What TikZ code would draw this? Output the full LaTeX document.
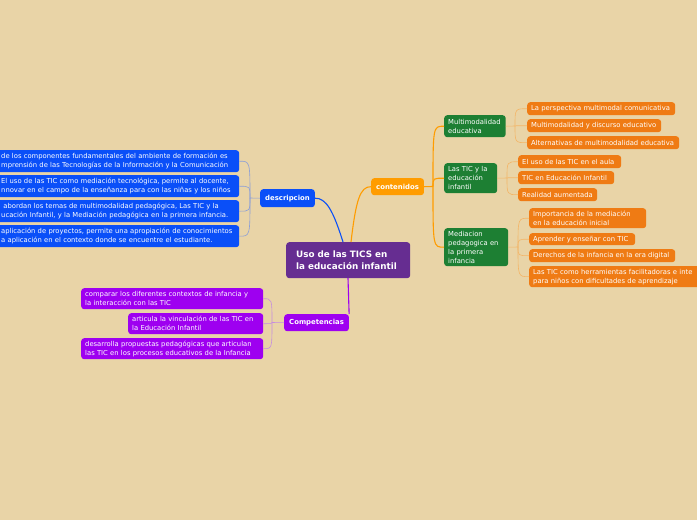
\documentclass[tikz,border=0pt]{standalone}
\usepackage{fontspec}
\setmainfont{DejaVu Sans}
\definecolor{bgc}{HTML}{E9D4A7}
\definecolor{cpurple}{HTML}{662D91}
\definecolor{cblue}{HTML}{0A4FF8}
\definecolor{cviolet}{HTML}{9E00F0}
\definecolor{corange}{HTML}{FF9C00}
\definecolor{cgreen}{HTML}{1D7F33}
\definecolor{cleaf}{HTML}{EF7B14}
\definecolor{lblue}{HTML}{8A9ED8}
\definecolor{lviolet}{HTML}{C58BE0}
\definecolor{lorange}{HTML}{F4B566}
\begin{document}
\begin{tikzpicture}[x=1pt,y=-1pt,
  box/.style={rounded corners=3pt, text=white, anchor=north west, inner ysep=0pt, inner xsep=4pt,
    font=\fontsize{6.8}{9}\selectfont, align=left},
  mainbox/.style={box, fill=cpurple, font=\bfseries\fontsize{8.8}{11.5}\selectfont, inner xsep=10pt},
  hub/.style={box, font=\bfseries\fontsize{6.9}{8}\selectfont, align=center, inner xsep=5pt},
  bleaf/.style={box, fill=cblue, inner xsep=5pt},
  vleaf/.style={box, fill=cviolet},
  gbox/.style={box, fill=cgreen},
  oleaf/.style={box, fill=cleaf},
  thickcon/.style={line width=1.1pt},
  thincon/.style={line width=0.6pt}
]
\fill[bgc] (0,0) rectangle (697,520);
\useasboundingbox (0,0) rectangle (697,520);

% central and hubs
\node[mainbox, minimum height=36pt, text width=104pt] (central) at (286,242) {Uso de las TICS en\\la educación infantil};
\node[hub, fill=cblue, minimum height=18pt] (desc) at (260,189) {descripcion};
\node[hub, fill=corange, minimum height=17pt] (cont) at (371,178) {contenidos};
\node[hub, fill=cviolet, minimum height=17pt] (comp) at (284,314) {Competencias};

% blue leaves
\node[bleaf, minimum height=22pt, text width=233pt] (b1) at (-4,150) {de los componentes fundamentales del ambiente de formación es\\mprensión de las Tecnologías de la Información y la Comunicación};
\node[bleaf, minimum height=22pt, text width=233pt] (b2) at (-4,175) {El uso de las TIC como mediación tecnológica, permite al docente,\\nnovar en el campo de la enseñanza para con las niñas y los niños};
\node[bleaf, minimum height=22pt, text width=233pt] (b3) at (-4,200) {\ abordan los temas de multimodalidad pedagógica, Las TIC y la\\ucación Infantil, y la Mediación pedagógica en la primera infancia.};
\node[bleaf, minimum height=22pt, text width=233pt] (b4) at (-4,225) {aplicación de proyectos, permite una apropiación de conocimientos\\a aplicación en el contexto donde se encuentre el estudiante.};

% violet leaves
\node[vleaf, minimum height=21pt, text width=174pt] (v1) at (81,288) {comparar los diferentes contextos de infancia y\\la interacción con las TIC};
\node[vleaf, minimum height=21pt, text width=127pt] (v2) at (128,313) {articula la vinculación de las TIC en\\la Educación Infantil};
\node[vleaf, minimum height=21pt, text width=174pt] (v3) at (81,338) {desarrolla propuestas pedagógicas que articulan\\las TIC en los procesos educativos de la Infancia};

% green nodes
\node[gbox, minimum height=22pt, text width=53.5pt] (g1) at (444,115) {Multimodalidad\\educativa};
\node[gbox, minimum height=30pt, text width=45pt] (g2) at (444,163) {Las TIC y la\\educación\\infantil};
\node[gbox, minimum height=38pt, text width=56pt] (g3) at (444,228) {Mediacion\\pedagogica en\\la primera\\infancia};

% orange leaves
\node[oleaf, minimum height=13pt, text width=140pt] (o1) at (527,102) {La perspectiva multimodal comunicativa};
\node[oleaf, minimum height=13pt, text width=126pt] (o2) at (527,119) {Multimodalidad y discurso educativo};
\node[oleaf, minimum height=13pt, text width=144pt] (o3) at (527,136) {Alternativas de multimodalidad educativa};
\node[oleaf, minimum height=13pt, text width=95pt] (o4) at (518,155) {El uso de las TIC en el aula};
\node[oleaf, minimum height=13pt, text width=88pt] (o5) at (518,171) {TIC en Educación Infantil};
\node[oleaf, minimum height=13pt, text width=71pt] (o6) at (518,188) {Realidad aumentada};
\node[oleaf, minimum height=20pt, text width=109pt] (o7) at (529,208) {Importancia de la mediación\\en la educación inicial};
\node[oleaf, minimum height=12pt, text width=98pt] (o8) at (529,233) {Aprender y enseñar con TIC};
\node[oleaf, minimum height=13pt, text width=138pt] (o9) at (529,249) {Derechos de la infancia en la era digital};
\node[oleaf, minimum height=21pt, text width=200pt] (o10) at (529,266) {Las TIC como herramientas facilitadoras e inte\\para niños con dificultades de aprendizaje};

% main connectors
\coordinate (cb) at (343,242);
\coordinate (co) at (351,242);
\coordinate (cv) at (348,278);
\draw[thickcon, cblue] (cb) .. controls (333,210) and (326,198) .. (desc.east);
\draw[thickcon, corange] (co) .. controls (356,200) and (360,186.5) .. (cont.west);
\draw[thickcon, cviolet] (cv) -- (comp.north east);

% descripcion leaves
\coordinate (ds) at (250,198);
\draw[thincon, lblue] (desc.west) -- (ds);
\foreach \n in {b1,b2,b3,b4}
  \draw[thincon, lblue] (ds) .. controls (ds |- \n.east) .. (\n.east);

% competencias leaves
\coordinate (vs) at (272,322.5);
\draw[thincon, lviolet] (comp.west) -- (vs);
\foreach \n in {v1,v2,v3}
  \draw[thincon, lviolet] (vs) .. controls (vs |- \n.east) .. (\n.east);

% contenidos branches
\coordinate (cs) at (433,186.5);
\draw[thickcon, corange] (cont.east) -- (cs);
\foreach \n in {g1,g2,g3}
  \draw[thickcon, corange] (cs) .. controls (cs |- \n.west) .. (\n.west);

% green leaves
\coordinate (s1) at (515,126);
\draw[thincon, lorange] (g1.east) -- (s1);
\foreach \n in {o1,o2,o3}
  \draw[thincon, lorange] (s1) .. controls (s1 |- \n.west) .. (\n.west);
\coordinate (s2) at (507,178);
\draw[thincon, lorange] (g2.east) -- (s2);
\foreach \n in {o4,o5,o6}
  \draw[thincon, lorange] (s2) .. controls (s2 |- \n.west) .. (\n.west);
\coordinate (s3) at (518,247);
\draw[thincon, lorange] (g3.east) -- (s3);
\foreach \n in {o7,o8,o9,o10}
  \draw[thincon, lorange] (s3) .. controls (s3 |- \n.west) .. (\n.west);
\end{tikzpicture}
\end{document}
